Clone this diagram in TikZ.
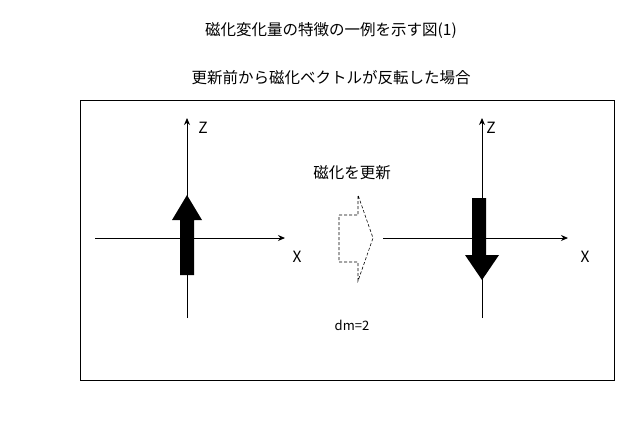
\documentclass[tikz,border=0pt]{standalone}
\usepackage{fontspec}
\setmainfont{Noto Sans CJK JP}
\usetikzlibrary{arrows.meta}
\begin{document}
\begin{tikzpicture}[x=1pt,y=-1pt,
  axis/.style={-{Stealth[length=7pt,width=6pt]},line width=0.9pt},
  lbl/.style={font=\fontsize{15.5}{18}\selectfont},
  fat/.style={fill=black}]
\useasboundingbox (0,0) rectangle (640,424);
\node[lbl] (t1) at (331,30) {磁化変化量の特徴の一例を示す図(1)};
\node[lbl] (t2) at (331,78) {更新前から磁化ベクトルが反転した場合};
\node[draw,line width=1pt,minimum width=534pt,minimum height=280pt,anchor=north west] (fr) at (80,100) {};
% left axes
\coordinate (lx0) at (95,238); \coordinate (lx1) at (285,238);
\coordinate (lz0) at (187,318); \coordinate (lz1) at (187,118);
\draw[axis] (lx0) -- (lx1);
\draw[axis] (lz0) -- (lz1);
\node[lbl] (lz) at (203,128) {Z};
\node[lbl] (lx) at (297,257) {X};
\fill (180,275) -- (194,275) -- (194,220) -- (202,220) -- (187,195) -- (172,220) -- (180,220) -- cycle;
% right axes
\coordinate (rx0) at (383,238); \coordinate (rx1) at (568,238);
\coordinate (rz0) at (482,318); \coordinate (rz1) at (482,118);
\draw[axis] (rx0) -- (rx1);
\draw[axis] (rz0) -- (rz1);
\node[lbl] (rz) at (491,128) {Z};
\node[lbl] (rx) at (585,257) {X};
\fill (472,198) -- (486,198) -- (486,255) -- (499,255) -- (482,280) -- (465,255) -- (472,255) -- cycle;
% dashed hollow arrow
\draw[densely dashed,line width=0.6pt] (339,215) -- (358,215) -- (358,195) -- (373,238) -- (358,281) -- (358,262) -- (339,262) -- cycle;
\node[lbl] (upd) at (352,173) {磁化を更新};
\node[font=\fontsize{13}{15}\selectfont] (dm) at (352,325) {dm=2};
\end{tikzpicture}
\end{document}
